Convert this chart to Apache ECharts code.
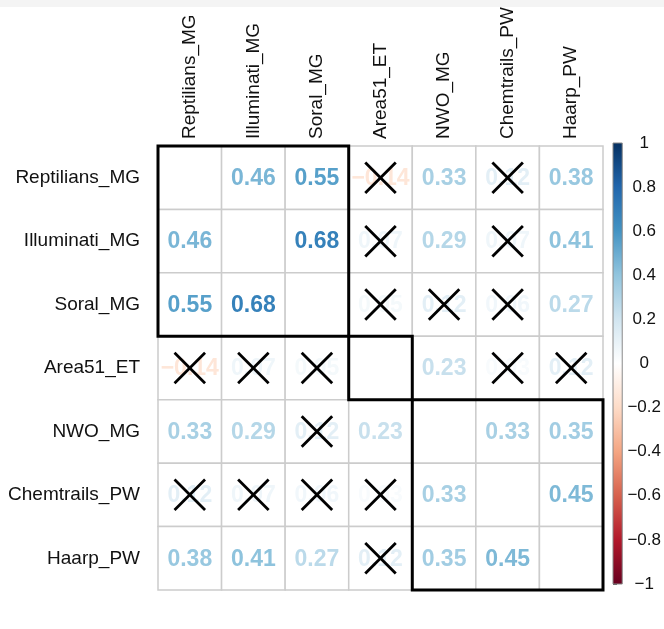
<!DOCTYPE html>
<html>
<head>
<meta charset="utf-8">
<script src="https://cdn.jsdelivr.net/npm/echarts@6/dist/echarts.min.js"></script>
<style>
html,body{margin:0;padding:0;background:#fff;}
#topband{position:absolute;left:0;top:0;width:664px;height:7px;background:#f4f4f4;}
#chart{width:664px;height:629px;}
</style>
</head>
<body>
<div id="chart"></div>
<div id="topband"></div>
<script>
const variables = ['Reptilians_MG','Illuminati_MG','Soral_MG','Area51_ET','NWO_MG','Chemtrails_PW','Haarp_PW'];
const corrRows = [
  [1.00, 0.46, 0.55, -0.14, 0.33, 0.12, 0.38],
  [0.46, 1.00, 0.68, 0.07, 0.29, 0.07, 0.41],
  [0.55, 0.68, 1.00, 0.05, 0.12, 0.06, 0.27],
  [-0.14, 0.07, 0.05, 1.00, 0.23, 0.03, 0.12],
  [0.33, 0.29, 0.12, 0.23, 1.00, 0.33, 0.35],
  [0.12, 0.07, 0.06, 0.03, 0.33, 1.00, 0.45],
  [0.38, 0.41, 0.27, 0.12, 0.35, 0.45, 1.00]
];
// [row, col] pairs that are not significant (crossed out)
const insignificant = [
  [0,3],[0,5],[1,3],[1,5],[2,3],[2,4],[2,5],
  [3,0],[3,1],[3,2],[3,5],[3,6],[4,2],
  [5,0],[5,1],[5,2],[5,3],[6,3]
];
// cluster blocks [firstIndex, lastIndex]
const clusters = [[0,2],[3,3],[4,6]];
const colorbarTicks = [-1,-0.8,-0.6,-0.4,-0.2,0,0.2,0.4,0.6,0.8,1];

const palette = ["#67001F","#B2182B","#D6604D","#F4A582","#FDDBC7","#FFFFFF","#D1E5F0","#92C5DE","#4393C3","#2166AC","#053061"];
function hex2rgb(h){return [parseInt(h.substr(1,2),16),parseInt(h.substr(3,2),16),parseInt(h.substr(5,2),16)];}
function colorFor(v){
  const p=(v+1)/2*(palette.length-1);
  const i=Math.min(Math.floor(p),palette.length-2);
  const t=p-i;
  const a=hex2rgb(palette[i]), b=hex2rgb(palette[i+1]);
  const c=a.map((x,k)=>Math.round(x+(b[k]-x)*t));
  return 'rgb('+c.join(',')+')';
}
const FONT = "'Liberation Sans', Arial, Helvetica, sans-serif";

const cellData = [];
corrRows.forEach((row,i)=>row.forEach((v,j)=>cellData.push([j,i,v])));
const crossData = insignificant.map(([r,c])=>[c,r]);
const clusterData = clusters.map(([a,b])=>[a,b]);

const chart = echarts.init(document.getElementById('chart'));
chart.setOption({
  animation:false,
  backgroundColor:'#fff',
  grid:[
    {left:158,top:146,width:445,height:444},
    {left:613,top:143,width:16,height:441}
  ],
  xAxis:[
    {gridIndex:0,type:'category',data:variables,position:'top',
     axisLine:{show:false},axisTick:{show:false},splitLine:{show:false},
     axisLabel:{rotate:-90,margin:7,fontSize:19,color:'#111',fontFamily:FONT}},
    {gridIndex:1,type:'value',min:0,max:1,show:false}
  ],
  yAxis:[
    {gridIndex:0,type:'category',data:variables,inverse:true,
     axisLine:{show:false},axisTick:{show:false},splitLine:{show:false},
     axisLabel:{margin:18,fontSize:19,color:'#111',fontFamily:FONT}},
    {gridIndex:1,type:'value',min:-1,max:1,interval:0.2,position:'right',
     axisLine:{show:false},splitLine:{show:false},
     axisTick:{show:true,length:4,lineStyle:{color:'#555',width:1}},
     axisLabel:{margin:22,align:'center',fontSize:17,color:'#111',fontFamily:FONT,
       formatter:function(v){const r=+(+v).toFixed(1);return r<0?'\u2212'+Math.abs(r):String(r);}}}
  ],
  series:[
    {
      type:'custom',xAxisIndex:0,yAxisIndex:0,data:cellData,z:1,
      renderItem:function(params,api){
        const c=api.coord([api.value(0),api.value(1)]);
        const s=api.size([1,1]);
        const v=api.value(2);
        const children=[{type:'rect',shape:{x:c[0]-s[0]/2,y:c[1]-s[1]/2,width:s[0],height:s[1]},
          style:{fill:'#fff',stroke:'#cccccc',lineWidth:1.5}}];
        if(api.value(0)!==api.value(1)){
          children.push({type:'text',x:c[0],y:c[1]+1,style:{text:v.toFixed(2).replace('-','\u2212'),
            fill:colorFor(v),font:'bold 23px '+FONT,align:'center',verticalAlign:'middle'}});
        }
        return {type:'group',children:children};
      }
    },
    {
      type:'custom',xAxisIndex:0,yAxisIndex:0,data:crossData,z:3,
      renderItem:function(params,api){
        const c=api.coord([api.value(0),api.value(1)]);
        const s=api.size([1,1]);
        const h=s[0]*0.24;
        return {type:'group',children:[
          {type:'line',shape:{x1:c[0]-h,y1:c[1]-h,x2:c[0]+h,y2:c[1]+h},style:{stroke:'#000',lineWidth:2.8}},
          {type:'line',shape:{x1:c[0]+h,y1:c[1]-h,x2:c[0]-h,y2:c[1]+h},style:{stroke:'#000',lineWidth:2.8}}
        ]};
      }
    },
    {
      type:'custom',xAxisIndex:0,yAxisIndex:0,data:clusterData,z:4,
      renderItem:function(params,api){
        const a=api.value(0), b=api.value(1);
        const p1=api.coord([a,a]), p2=api.coord([b,b]);
        const s=api.size([1,1]);
        return {type:'rect',shape:{x:p1[0]-s[0]/2,y:p1[1]-s[1]/2,width:p2[0]-p1[0]+s[0],height:p2[1]-p1[1]+s[1]},
          style:{fill:'none',stroke:'#000',lineWidth:3}};
      }
    },
    {
      type:'custom',xAxisIndex:1,yAxisIndex:1,data:[[0,1,-1]],z:2,
      renderItem:function(params,api){
        const top=api.coord([0,api.value(1)]);
        const bot=api.coord([1,api.value(2)]);
        const stops=palette.slice().reverse().map((c,k)=>({offset:k/(palette.length-1),color:c}));
        return {type:'rect',shape:{x:top[0],y:top[1],width:bot[0]-top[0],height:bot[1]-top[1]},
          style:{fill:new echarts.graphic.LinearGradient(0,0,0,1,stops),stroke:'#888',lineWidth:1}};
      }
    }
  ]
});
</script>
</body>
</html>
